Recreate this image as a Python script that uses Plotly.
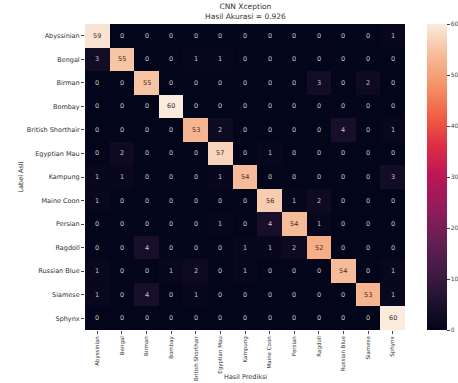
import plotly.graph_objects as go

classes = ["Abyssinian", "Bengal", "Birman", "Bombay", "British Shorthair",
           "Egyptian Mau", "Kampung", "Maine Coon", "Persian", "Ragdoll",
           "Russian Blue", "Siamese", "Sphynx"]

# rows = true label, columns = predicted label
conf = [
    [59, 0, 0, 0, 0, 0, 0, 0, 0, 0, 0, 0, 1],
    [3, 55, 0, 0, 1, 1, 0, 0, 0, 0, 0, 0, 0],
    [0, 0, 55, 0, 0, 0, 0, 0, 0, 3, 0, 2, 0],
    [0, 0, 0, 60, 0, 0, 0, 0, 0, 0, 0, 0, 0],
    [0, 0, 0, 0, 53, 2, 0, 0, 0, 0, 4, 0, 1],
    [0, 2, 0, 0, 0, 57, 0, 1, 0, 0, 0, 0, 0],
    [1, 1, 0, 0, 0, 1, 54, 0, 0, 0, 0, 0, 3],
    [1, 0, 0, 0, 0, 0, 0, 56, 1, 2, 0, 0, 0],
    [0, 0, 0, 0, 0, 1, 0, 4, 54, 1, 0, 0, 0],
    [0, 0, 4, 0, 0, 0, 1, 1, 2, 52, 0, 0, 0],
    [1, 0, 0, 1, 2, 0, 1, 0, 0, 0, 54, 0, 1],
    [1, 0, 4, 0, 1, 0, 0, 0, 0, 0, 0, 53, 1],
    [0, 0, 0, 0, 0, 0, 0, 0, 0, 0, 0, 0, 60],
]

cbar_ticks = [0, 10, 20, 30, 40, 50, 60]

correct = sum(conf[i][i] for i in range(len(classes)))
total = sum(sum(r) for r in conf)
accuracy = correct / total

rocket = [
    [0.0, "#03051A"], [0.1, "#221331"], [0.2, "#451C47"], [0.3, "#691F55"],
    [0.4, "#921C5B"], [0.5, "#B91657"], [0.6, "#DD2C45"], [0.7, "#F06043"],
    [0.8, "#F5936A"], [0.9, "#F6BC99"], [1.0, "#FAEBDD"],
]

text_colors = [["#3a2a2a" if v > 30 else "#c8c8c8" for v in row] for row in conf]

FONT = "DejaVu Sans"

fig = go.Figure(go.Heatmap(
    z=conf, x=classes, y=classes,
    colorscale=rocket, zmin=0, zmax=60,
    showscale=True,
    colorbar=dict(
        thickness=20, len=1.0, lenmode="fraction", y=0.5, yanchor="middle",
        x=1.069, xanchor="left", xpad=0, ypad=0, outlinewidth=0,
        tickvals=cbar_ticks, ticks="outside", ticklen=3, tickcolor="#444",
        tickfont=dict(size=6, color="#444", family=FONT),
    ),
    hoverinfo="skip",
))

# value in each cell
for i, row in enumerate(conf):
    for j, v in enumerate(row):
        fig.add_annotation(
            x=classes[j], y=classes[i], text=str(v), showarrow=False,
            font=dict(size=6.5, color=text_colors[i][j], family=FONT),
        )

fig.add_annotation(
    xref="paper", yref="paper", x=0.5, y=1.0, yanchor="bottom", yshift=1,
    text=f"CNN Xception<br>Hasil Akurasi = {accuracy:.3f}", showarrow=False,
    font=dict(size=7.5, color="#333", family=FONT),
)
fig.add_annotation(
    xref="paper", yref="paper", x=-0.22, y=0.5, text="Label Asli",
    textangle=-90, showarrow=False,
    font=dict(size=6.5, color="#333", family=FONT),
)
fig.add_annotation(
    xref="paper", yref="paper", x=0.5, y=-0.155, yanchor="middle",
    text="Hasil Prediksi", showarrow=False,
    font=dict(size=6.5, color="#333", family=FONT),
)

fig.update_layout(
    width=458, height=383,
    margin=dict(l=85, r=53, t=24, b=53, autoexpand=False),
    paper_bgcolor="white", plot_bgcolor="white",
    xaxis=dict(
        tickangle=-90, ticks="outside", ticklen=3, tickcolor="#444",
        tickfont=dict(size=5.5, color="#333", family=FONT),
        showgrid=False, zeroline=False,
    ),
    yaxis=dict(
        autorange="reversed", ticks="outside", ticklen=3, tickcolor="#444",
        tickfont=dict(size=6.5, color="#333", family=FONT),
        showgrid=False, zeroline=False,
    ),
    showlegend=False,
)

fig.write_html("out.html")
